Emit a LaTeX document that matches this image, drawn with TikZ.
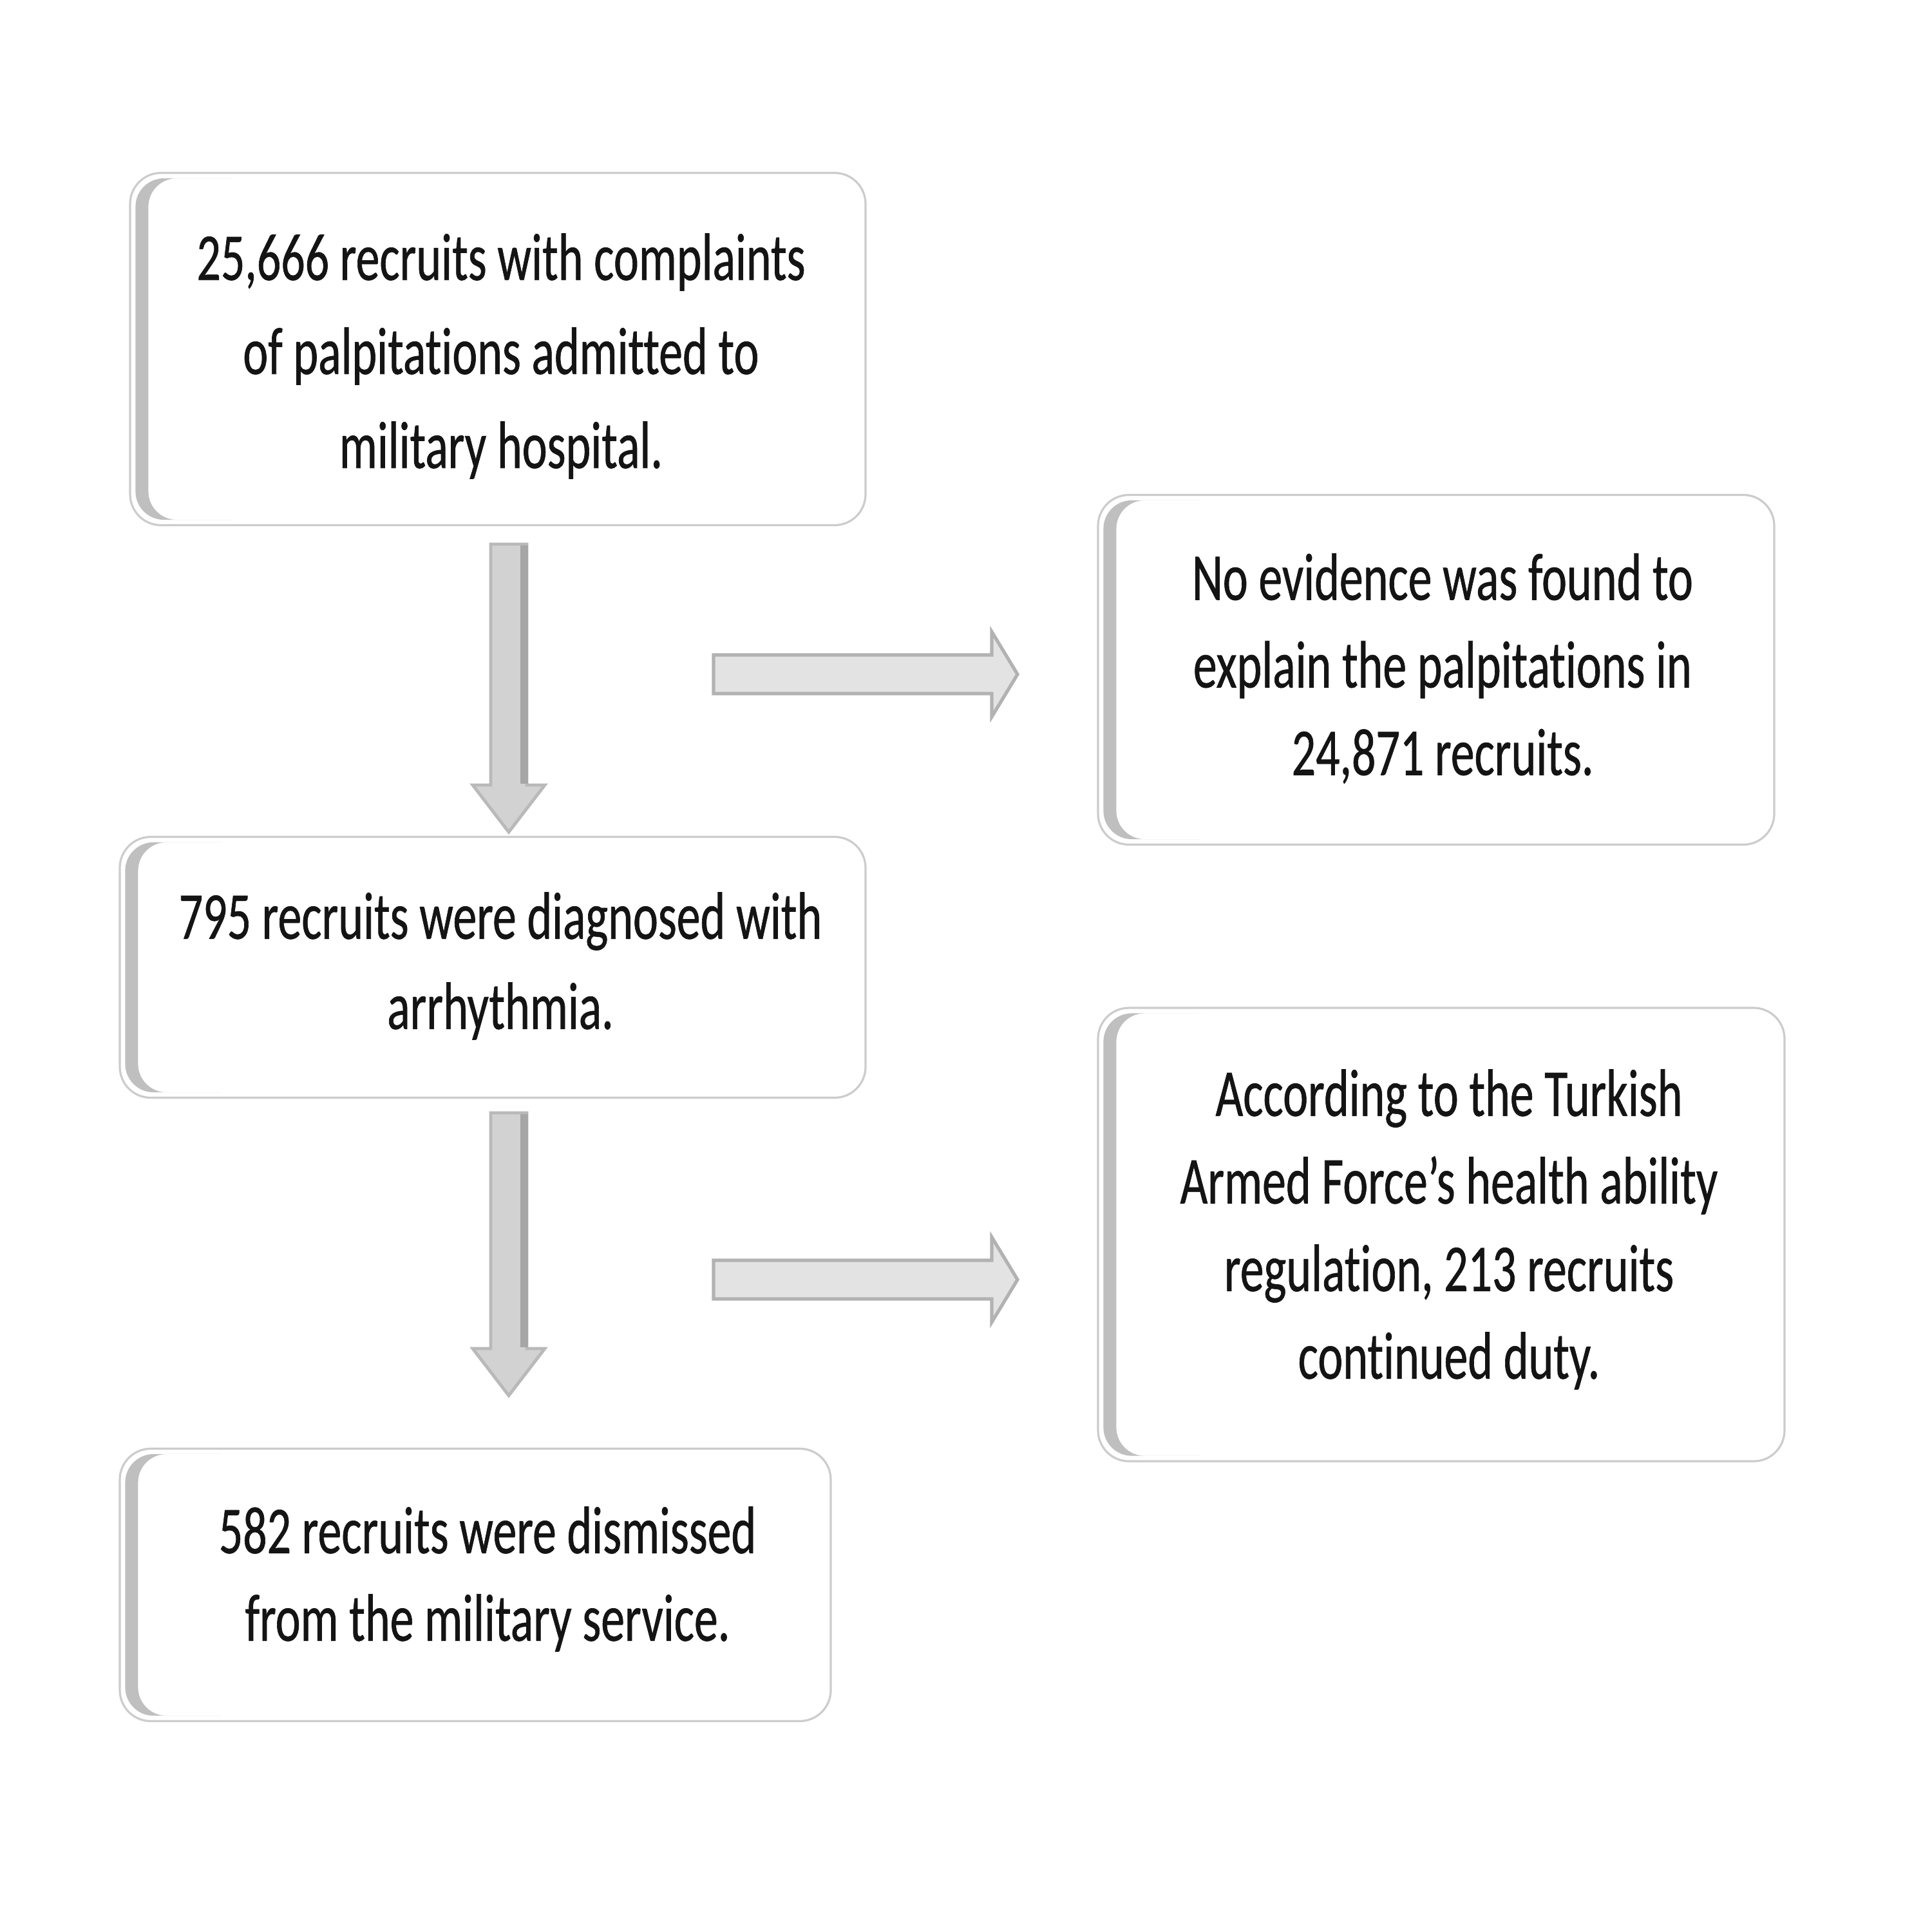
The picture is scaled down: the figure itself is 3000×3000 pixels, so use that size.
\documentclass[tikz,border=0pt]{standalone}
\usepackage{fontspec}
\setmainfont{Carlito}[FakeStretch=0.71, FakeBold=0.6, Ligatures=NoCommon]
\usetikzlibrary{calc}
\tikzset{
  flowbox/.style={draw=gray!40, line width=0.8pt, fill=white, rounded corners=12pt, inner sep=0pt},
  flowtext/.style={align=center, inner sep=0pt, text=black!92},
  blockarrow/.style={fill=gray!22, draw=gray!60, line width=1.3pt, line join=miter},
  downarrow/.style={fill=gray!35, draw=gray!55, line width=1.2pt, line join=miter},
}
\newcommand\leftshade[1]{%
  \begin{scope}
    \clip ([xshift=-2pt]#1.south west) rectangle ([xshift=40pt]#1.north west);
    \fill[gray!50, rounded corners=11pt, even odd rule]
      ([xshift=2.5pt,yshift=2.5pt]#1.south west) rectangle ([yshift=-2.5pt]#1.north east)
      ([xshift=7.5pt,yshift=2.5pt]#1.south west) rectangle ([yshift=-2.5pt]#1.north east);
  \end{scope}}
\begin{document}
\begin{tikzpicture}[x=0.25pt,y=-0.25pt]
\useasboundingbox[fill=white] (0,0) rectangle (3000,3000);

% boxes
\node[flowbox, minimum width=1142*0.25pt, minimum height=547*0.25pt] (b1) at (773,542) {};
\node[flowbox, minimum width=1158*0.25pt, minimum height=405*0.25pt] (b2) at (765,1502) {};
\node[flowbox, minimum width=1104*0.25pt, minimum height=423*0.25pt] (b3) at (738,2461) {};
\node[flowbox, minimum width=1050*0.25pt, minimum height=543*0.25pt] (ba) at (2230,1040) {};
\node[flowbox, minimum width=1066*0.25pt, minimum height=704*0.25pt] (bb) at (2238,1917) {};

\leftshade{b1}\leftshade{b2}\leftshade{b3}\leftshade{ba}\leftshade{bb}

% texts
\node[flowtext, font=\fontsize{26}{36.5}\selectfont] (t1) at (778,553)
  {25,666 recruits with complaints\\ of palpitations admitted to\\ military hospital.};
\node[flowtext, font=\fontsize{26}{35}\selectfont] (t2) at (777,1500)
  {795 recruits were diagnosed with\\ arrhythmia.};
\node[flowtext, font=\fontsize{26}{34}\selectfont] (t3) at (757,2452)
  {582 recruits were dismissed\\ from the military service.};
\node[flowtext, font=\fontsize{26}{34}\selectfont] (ta) at (2240,1038)
  {No evidence was found to\\ explain the palpitations in\\ 24,871 recruits.};
\node[flowtext, font=\fontsize{26}{34}\selectfont] (tb) at (2250,1909)
  {According to the Turkish\\ Armed Force’s health ability\\ regulation, 213 recruits\\ continued duty.};

% down arrows
\coordinate (d1s) at (790,845);  \coordinate (d1e) at (790,1292);
\coordinate (d2s) at (790,1728); \coordinate (d2e) at (790,2167);
\foreach \s/\e in {d1s/d1e, d2s/d2e}{
  \draw[downarrow] ($(\s)+(-28,0)$) -- ($(\s)+(28,0)$) -- ($(\e)+(28,-73)$) -- ($(\e)+(56,-73)$)
    -- (\e) -- ($(\e)+(-56,-73)$) -- ($(\e)+(-28,-73)$) -- cycle;
  \draw[gray!70, line width=3pt] ($(\s)+(24,2)$) -- ($(\e)+(24,-75)$);
}

% right arrows
\coordinate (r1s) at (1108,1047); \coordinate (r1e) at (1580,1047);
\coordinate (r2s) at (1108,1987); \coordinate (r2e) at (1580,1987);
\foreach \s/\e in {r1s/r1e, r2s/r2e}{
  \draw[blockarrow] ($(\s)+(0,-30)$) -- ($(\e)+(-40,-30)$) -- ($(\e)+(-40,-66)$) -- (\e)
    -- ($(\e)+(-40,66)$) -- ($(\e)+(-40,30)$) -- ($(\s)+(0,30)$) -- cycle;
}
\end{tikzpicture}
\end{document}
